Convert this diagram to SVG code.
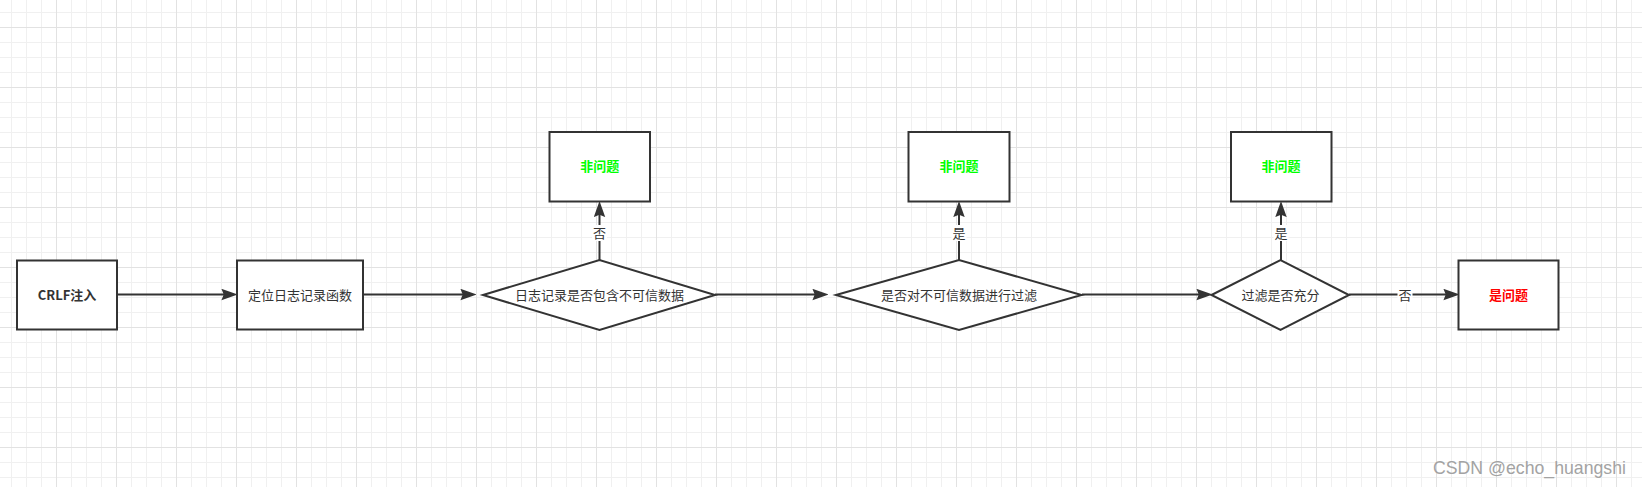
<svg xmlns="http://www.w3.org/2000/svg" width="1642" height="487" viewBox="0 0 1642 487">
<style>
.node{fill:#fff;stroke:#333;stroke-width:2}
.t{font-family:"Microsoft YaHei","Noto Sans CJK SC","Noto Sans",sans-serif;font-size:13px;fill:#333;text-anchor:middle}
.b{font-weight:bold}
.g{fill:#00ff00;font-weight:bold}
.r{fill:#ff0000;font-weight:bold}
.edge{stroke:#333;stroke-width:2;fill:none;marker-end:url(#arr)}
.lblbg{fill:#fff}
</style>
<defs>
<pattern id="grid" x="56" y="27" width="60" height="60" patternUnits="userSpaceOnUse">
<path d="M15.5 0V60M30.5 0V60M45.5 0V60M0 15.5H60M0 30.5H60M0 45.5H60" stroke="#f0f0f0" stroke-width="1" fill="none"/>
<path d="M0.5 0V60M0 0.5H60" stroke="#e2e2e2" stroke-width="1" fill="none"/>
</pattern>
<marker id="arr" markerUnits="userSpaceOnUse" markerWidth="16" markerHeight="12" refX="4" refY="5" orient="auto" viewBox="0 0 14 10">
<path d="M0,0 L14,5 L0,10 L2,5 Z" fill="#333"/>
</marker>
</defs>
<rect width="1642" height="487" fill="#fff"/>
<rect width="1642" height="487" fill="url(#grid)"/>

<g id="connectors">
<line class="edge" x1="117" y1="294.5" x2="226" y2="294.5"/>
<line class="edge" x1="363" y1="294.5" x2="465" y2="294.5"/>
<line class="edge" x1="715" y1="294.5" x2="817" y2="294.5"/>
<line class="edge" x1="1082" y1="294.5" x2="1201" y2="294.5"/>
<line class="edge" x1="1349" y1="294.5" x2="1448" y2="294.5"/>
<line class="edge" x1="599.5" y1="260" x2="599.5" y2="212.5"/>
<line class="edge" x1="959" y1="260" x2="959" y2="212.5"/>
<line class="edge" x1="1281" y1="260" x2="1281" y2="212.5"/>
<g id="edge-labels">
<rect class="lblbg" x="592" y="225" width="15" height="16"/>
<text class="t" x="599.5" y="237.5">否</text>
<rect class="lblbg" x="951.5" y="225" width="15" height="16"/>
<text class="t" x="959" y="237.5">是</text>
<rect class="lblbg" x="1273.5" y="225" width="15" height="16"/>
<text class="t" x="1281" y="237.5">是</text>
<rect class="lblbg" x="1397.5" y="287" width="15" height="16"/>
<text class="t" x="1405" y="299.5">否</text>
</g>
</g>

<g id="n-crlf">
<rect class="node" x="17" y="260.5" width="100" height="69"/>
<text class="t b" x="67" y="299.5">CRLF注入</text>
</g>
<g id="n-locate">
<rect class="node" x="237" y="260.5" width="126" height="69"/>
<text class="t" x="300" y="299.5">定位日志记录函数</text>
</g>
<g id="n-d1">
<polygon class="node" points="483,295 599.5,260 715,295 599.5,330"/>
<text class="t" x="599.5" y="299.5">日志记录是否包含不可信数据</text>
</g>
<g id="n-ok1">
<rect class="node" x="549.5" y="132" width="100.5" height="69.5"/>
<text class="t g" x="599.7" y="171">非问题</text>
</g>
<g id="n-d2">
<polygon class="node" points="836,295 959,260 1081.5,295 959,330"/>
<text class="t" x="959" y="299.5">是否对不可信数据进行过滤</text>
</g>
<g id="n-ok2">
<rect class="node" x="908.5" y="132" width="101" height="69.5"/>
<text class="t g" x="959" y="171">非问题</text>
</g>
<g id="n-d3">
<polygon class="node" points="1211.5,295 1280.5,260 1349,295 1280.5,330"/>
<text class="t" x="1280.5" y="299.5">过滤是否充分</text>
</g>
<g id="n-ok3">
<rect class="node" x="1231" y="132" width="100.5" height="69.5"/>
<text class="t g" x="1281" y="171">非问题</text>
</g>
<g id="n-issue">
<rect class="node" x="1458.5" y="260.5" width="100" height="69"/>
<text class="t r" x="1508.5" y="299.5">是问题</text>
</g>
<text x="1433" y="474" font-family="Liberation Sans, Arial, sans-serif" font-size="17.7" fill="#a3a3a3">CSDN @echo_huangshi</text>
</svg>
